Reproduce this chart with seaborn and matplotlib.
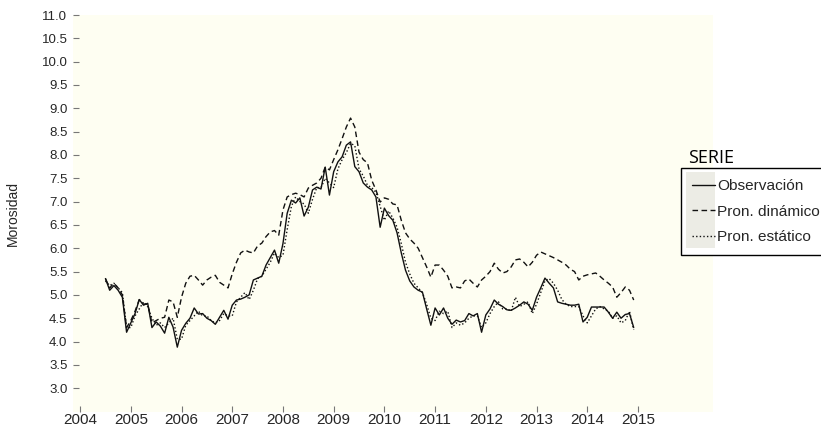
import numpy as np
import pandas as pd
import matplotlib
matplotlib.use("Agg")
import matplotlib.pyplot as plt
from matplotlib.patches import Rectangle
from matplotlib.lines import Line2D
from matplotlib.legend_handler import HandlerBase
import seaborn as sns

# ─── Data (monthly, Jul 2004 – Dec 2014) ─────────────────────────────────────
START = "2004-07"

observacion = [
    5.35, 5.10, 5.20, 5.10, 4.95, 4.20,                                   # 2004
    4.40, 4.60, 4.90, 4.78, 4.82, 4.30, 4.42, 4.33, 4.18, 4.52, 4.31, 3.88,  # 2005
    4.24, 4.39, 4.50, 4.72, 4.59, 4.60, 4.50, 4.45, 4.37, 4.52, 4.67, 4.48,  # 2006
    4.78, 4.89, 4.91, 4.95, 5.00, 5.32, 5.36, 5.40, 5.64, 5.80, 5.96, 5.68,  # 2007
    6.10, 6.75, 7.03, 6.97, 7.08, 6.69, 6.88, 7.25, 7.31, 7.27, 7.74, 7.14,  # 2008
    7.64, 7.85, 7.96, 8.21, 8.28, 7.75, 7.64, 7.40, 7.31, 7.25, 7.10, 6.45,  # 2009
    6.86, 6.70, 6.60, 6.33, 5.90, 5.53, 5.30, 5.17, 5.10, 5.06, 4.70, 4.35,  # 2010
    4.72, 4.57, 4.72, 4.50, 4.37, 4.46, 4.42, 4.45, 4.60, 4.55, 4.60, 4.20,  # 2011
    4.57, 4.70, 4.89, 4.80, 4.75, 4.68, 4.67, 4.72, 4.78, 4.85, 4.80, 4.67,  # 2012
    4.95, 5.15, 5.36, 5.25, 5.15, 4.85, 4.82, 4.80, 4.78, 4.78, 4.80, 4.42,  # 2013
    4.52, 4.74, 4.74, 4.74, 4.74, 4.63, 4.50, 4.63, 4.50, 4.58, 4.60, 4.30,  # 2014
]

pron_dinamico = [
    5.35, 5.15, 5.25, 5.15, 5.00, 4.30,
    4.45, 4.65, 4.90, 4.80, 4.80, 4.40, 4.45, 4.50, 4.52, 4.89, 4.85, 4.52,
    4.95, 5.25, 5.40, 5.42, 5.32, 5.21, 5.32, 5.38, 5.42, 5.27, 5.21, 5.15,
    5.45, 5.70, 5.90, 5.96, 5.92, 5.90, 6.05, 6.11, 6.25, 6.35, 6.38, 6.28,
    6.82, 7.10, 7.15, 7.18, 7.15, 7.10, 7.29, 7.35, 7.40, 7.50, 7.74, 7.68,
    7.90, 8.11, 8.35, 8.60, 8.79, 8.60, 8.06, 7.90, 7.83, 7.46, 7.25, 6.99,
    7.08, 7.05, 6.95, 6.93, 6.60, 6.33, 6.20, 6.11, 6.00, 5.80, 5.60, 5.38,
    5.64, 5.64, 5.53, 5.40, 5.15, 5.17, 5.15, 5.30, 5.34, 5.25, 5.17, 5.32,
    5.40, 5.50, 5.68, 5.55, 5.47, 5.50, 5.60, 5.75, 5.77, 5.70, 5.60, 5.70,
    5.85, 5.92, 5.88, 5.84, 5.80, 5.75, 5.70, 5.64, 5.55, 5.50, 5.32, 5.40,
    5.43, 5.45, 5.47, 5.40, 5.32, 5.25, 5.17, 4.95, 5.05, 5.17, 5.10, 4.89,
]

pron_estatico = [
    5.30, 5.20, 5.25, 5.15, 5.05, 4.30,
    4.30, 4.55, 4.70, 4.85, 4.75, 4.50, 4.35, 4.40, 4.30, 4.40, 4.50, 4.05,
    4.05, 4.35, 4.45, 4.55, 4.65, 4.55, 4.55, 4.45, 4.40, 4.45, 4.60, 4.55,
    4.55, 4.85, 4.95, 5.05, 4.90, 5.10, 5.35, 5.40, 5.55, 5.70, 5.90, 5.80,
    5.85, 6.40, 6.90, 7.10, 7.00, 6.95, 6.75, 7.05, 7.30, 7.30, 7.50, 7.40,
    7.30, 7.70, 7.90, 8.05, 8.25, 8.20, 7.70, 7.55, 7.35, 7.30, 7.20, 6.90,
    6.60, 6.80, 6.65, 6.45, 6.10, 5.70, 5.45, 5.25, 5.15, 5.05, 4.80, 4.50,
    4.45, 4.65, 4.60, 4.65, 4.30, 4.40, 4.35, 4.40, 4.50, 4.55, 4.55, 4.30,
    4.40, 4.60, 4.75, 4.85, 4.70, 4.70, 4.65, 4.95, 4.75, 4.80, 4.85, 4.60,
    4.80, 5.05, 5.30, 5.35, 5.25, 5.10, 4.90, 4.80, 4.75, 4.75, 4.75, 4.55,
    4.40, 4.55, 4.70, 4.75, 4.70, 4.65, 4.50, 4.55, 4.40, 4.45, 4.65, 4.25,
]

series_names = ["Observación", "Pron. dinámico", "Pron. estático"]
year_ticks = list(range(2004, 2016))
y_ticks = [3.0, 3.5, 4.0, 4.5, 5.0, 5.5, 6.0, 6.5, 7.0, 7.5, 8.0, 8.5,
           9.0, 9.5, 10.0, 10.5, 11.0]

# ─── Long-form frame ─────────────────────────────────────────────────────────
dates = pd.date_range(START, periods=len(observacion), freq="MS")
t = dates.year + (dates.month - 1) / 12.0
df = pd.concat([
    pd.DataFrame({"t": t, "valor": vals, "SERIE": name})
    for name, vals in zip(series_names, [observacion, pron_dinamico, pron_estatico])
], ignore_index=True)


class KeyHandler(HandlerBase):
    """Legend key: light gray box filling the row, series line on top."""
    def create_artists(self, legend, orig_handle, xdescent, ydescent,
                       width, height, fontsize, trans):
        ymid = height / 2 - ydescent
        half = 9.2    # points, about half a legend row
        left = 4.5    # points the gray box reaches left of the handle area
        bg = Rectangle((-xdescent - left, ymid - half), width + left, 2 * half,
                       facecolor="#ecece5", edgecolor="none", transform=trans)
        ln = Line2D([-xdescent, -xdescent + width - 0.5], [ymid, ymid])
        ln.update_from(orig_handle)
        ln.set_transform(trans)
        return [bg, ln]


# ─── Plot ────────────────────────────────────────────────────────────────────
sns.set_style("white")
plt.rcParams["font.family"] = ["Liberation Sans", "DejaVu Sans"]

fig = plt.figure(figsize=(8.21, 4.28), dpi=100)
ax = fig.add_axes([73/821, 1 - 412/428, (713 - 73)/821, (412 - 15)/428])
ax.set_facecolor("#fefef2")

dash_styles = {"Observación": "", "Pron. dinámico": (4, 2.5), "Pron. estático": (1, 1.6)}
sns.lineplot(data=df, x="t", y="valor", hue="SERIE", style="SERIE",
             palette=["#111111"] * 3, dashes=dash_styles,
             linewidth=1.0, legend=False, ax=ax)

ax.set_xlim(2003.86, 2016.48)
ax.set_ylim(2.49, 11.0)
ax.set_xticks(year_ticks)
ax.set_xticklabels([str(y) for y in year_ticks], fontsize=11)
ax.set_yticks(y_ticks)
ax.set_yticklabels([f"{v:.1f}" for v in y_ticks], fontsize=9.5)
ax.tick_params(axis="y", left=True, direction="in", length=4, width=0.8,
               color="#777777", pad=4)
ax.tick_params(axis="x", bottom=True, direction="in", length=4, width=0.8,
               color="#777777", pad=0.5)
for s in ax.spines.values():
    s.set_visible(False)
ax.set_xlabel("")
ax.set_ylabel("Morosidad", fontsize=10)
ax.yaxis.set_label_coords(-0.083, 0.5)

# ─── Legend (title outside frame, gray key background) ──────────────────────
handles = []
for name in series_names:
    ln = Line2D([], [], color="#111111", linewidth=1.0)
    if dash_styles[name]:
        ln.set_dashes(dash_styles[name])
    handles.append(ln)

leg = fig.legend(handles, series_names, loc="upper left",
                 bbox_to_anchor=(681/821, 1 - 168/428), bbox_transform=fig.transFigure,
                 handler_map={Line2D: KeyHandler()},
                 frameon=True, fancybox=False, edgecolor="black", framealpha=1,
                 fontsize=11.1, handlelength=1.5,
                 handletextpad=0.12, borderpad=0.72, borderaxespad=0,
                 labelspacing=0.74)
leg.get_frame().set_linewidth(1.0)
fig.text(688/821, 1 - 158/428, "SERIE", fontsize=13, family=["Open Sans", "DejaVu Sans"],
         ha="left", va="center", color="black")

fig.savefig("out.png", dpi=100)
